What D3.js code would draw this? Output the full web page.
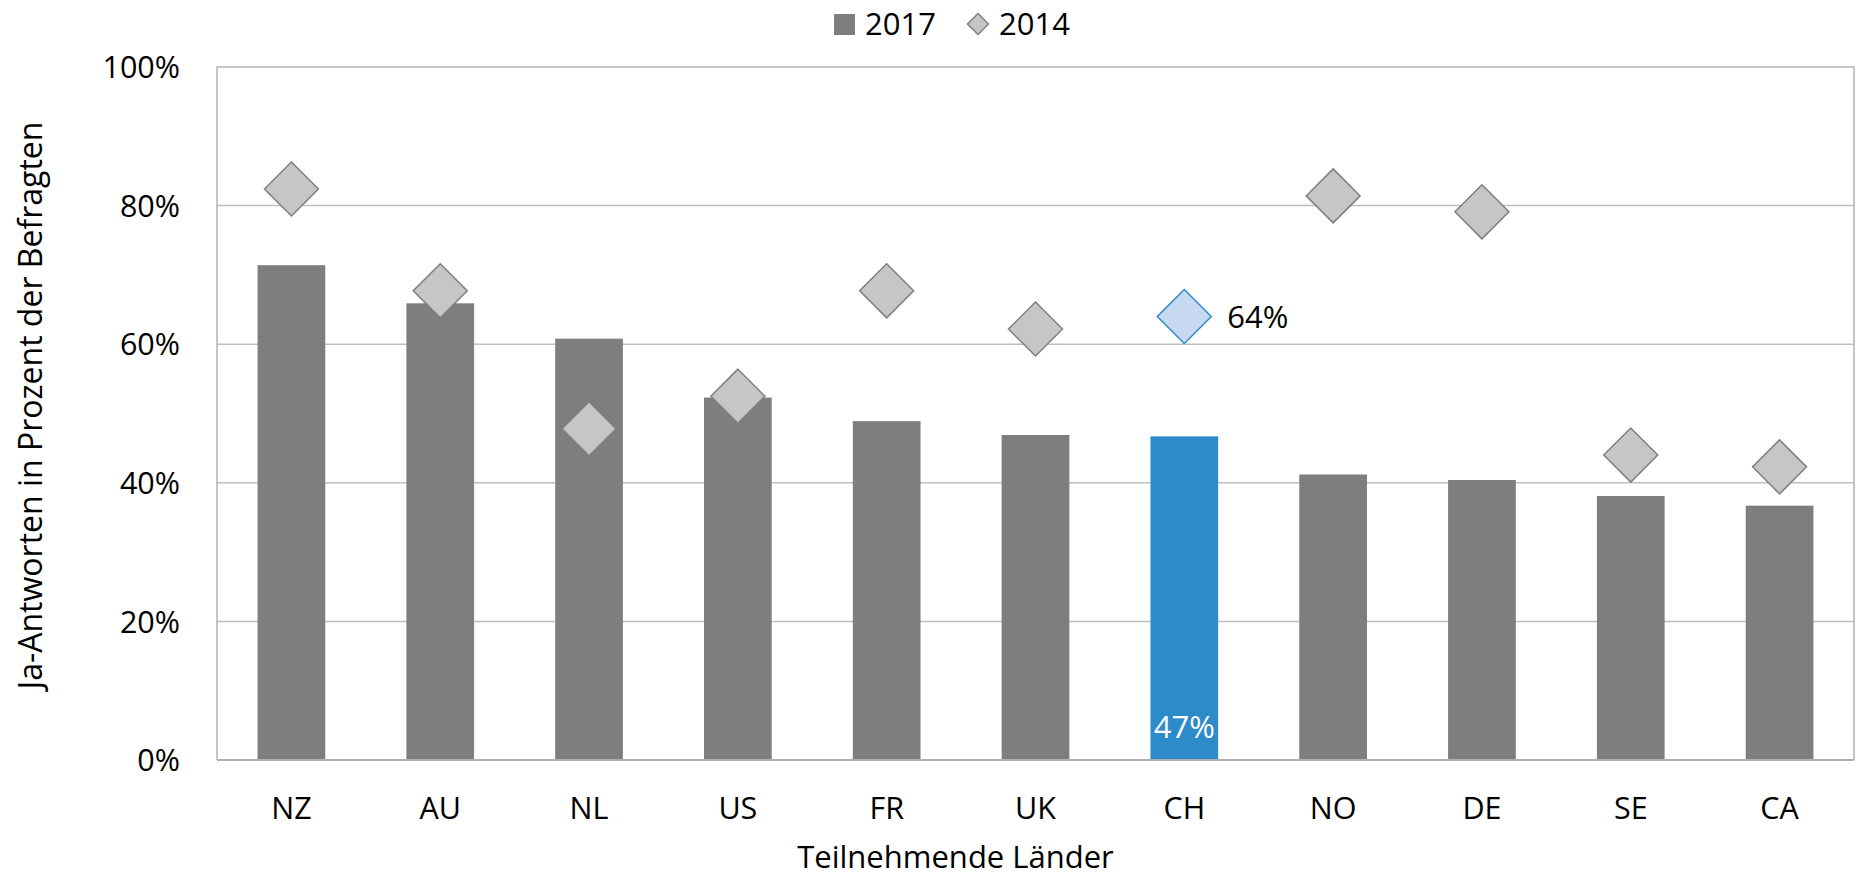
<!DOCTYPE html>
<html>
<head>
<meta charset="utf-8">
<script src="https://cdn.jsdelivr.net/npm/d3@7"></script>
<style>
  html, body { margin: 0; padding: 0; background: #fff; }
  svg { display: block; }
  text { font-family: "Open Sans", sans-serif; }
</style>
</head>
<body>
<svg id="chart" width="1856" height="878"></svg>
<script>
const categories = ["NZ", "AU", "NL", "US", "FR", "UK", "CH", "NO", "DE", "SE", "CA"];
const values2017 = [71.4, 65.9, 60.8, 52.3, 48.9, 46.9, 46.7, 41.2, 40.4, 38.1, 36.7];
const values2014 = [82.4, 67.7, 47.8, 52.5, 67.7, 62.2, 64.0, 81.4, 79.1, 44.0, 42.3];
const yTicks = [0, 20, 40, 60, 80, 100];
const seriesNames = ["2017", "2014"];
const highlight = "CH";
const yTitle = "Ja-Antworten in Prozent der Befragten";
const xTitle = "Teilnehmende Länder";

const svg = d3.select("#chart");
const m = { left: 217, right: 1854, top: 67, bottom: 760 };

const x = d3.scaleBand().domain(categories).range([m.left, m.right]).paddingInner(0.545).paddingOuter(0.2725);
const y = d3.scaleLinear().domain([0, 100]).range([m.bottom, m.top]);

// gridlines
svg.append("g").selectAll("line").data(yTicks.filter(d => d > 0 && d < 100)).join("line")
  .attr("x1", m.left).attr("x2", m.right)
  .attr("y1", d => y(d)).attr("y2", d => y(d))
  .attr("stroke", "#bfbfbf").attr("stroke-width", 1.5);

// plot border (top, left, right)
svg.append("path")
  .attr("d", `M${m.left},${m.bottom}V${m.top}H${m.right}V${m.bottom}`)
  .attr("fill", "none").attr("stroke", "#b3b3b3").attr("stroke-width", 1.5);

// bars
svg.append("g").selectAll("rect").data(categories).join("rect")
  .attr("x", d => x(d))
  .attr("width", x.bandwidth())
  .attr("y", (d, i) => y(values2017[i]))
  .attr("height", (d, i) => y(0) - y(values2017[i]))
  .attr("fill", d => d === highlight ? "#2e8bc9" : "#7e7e80");

// x axis line
svg.append("line").attr("x1", m.left).attr("x2", m.right)
  .attr("y1", y(0)).attr("y2", y(0))
  .attr("stroke", "#b0b0b0").attr("stroke-width", 2);

// diamonds
const dSize = 27;
const diamond = `M0,${-dSize}L${dSize},0L0,${dSize}L${-dSize},0Z`;
svg.append("g").selectAll("path").data(categories).join("path")
  .attr("d", diamond)
  .attr("transform", (d, i) => `translate(${x(d) + x.bandwidth() / 2},${y(values2014[i])})`)
  .attr("fill", d => d === highlight ? "#c6d9f0" : "#c6c6c7")
  .attr("stroke", d => d === highlight ? "#2e8bc9" : "#7f7f7f")
  .attr("stroke-width", 1.5);

// data labels for highlight
const hi = categories.indexOf(highlight);
svg.append("text")
  .attr("x", x(highlight) + x.bandwidth() / 2 + dSize + 16)
  .attr("y", y(values2014[hi]) + 12)
  .attr("font-size", 31).attr("fill", "#000")
  .text(Math.round(values2014[hi]) + "%");
svg.append("text")
  .attr("x", x(highlight) + x.bandwidth() / 2)
  .attr("y", y(0) - 22)
  .attr("text-anchor", "middle")
  .attr("font-size", 31).attr("fill", "#fff")
  .text(Math.round(values2017[hi]) + "%");

// y axis
const yAxis = d3.axisLeft(y).tickValues(yTicks).tickFormat(d => d + "%").tickSize(0).tickPadding(37);
const gy = svg.append("g").attr("transform", `translate(${m.left},0)`).call(yAxis);
gy.select(".domain").remove();
gy.selectAll("text").attr("font-size", 30.5).attr("font-family", "Open Sans, sans-serif").attr("fill", "#000").attr("dy", "0.35em");

// x axis labels
const xAxis = d3.axisBottom(x).tickSize(0).tickPadding(38);
const gx = svg.append("g").attr("transform", `translate(0,${y(0)})`).call(xAxis);
gx.select(".domain").remove();
gx.selectAll("text").attr("font-size", 30.5).attr("font-family", "Open Sans, sans-serif").attr("fill", "#000").attr("dy", "0.68em");

// axis titles
svg.append("text")
  .attr("x", (m.left + m.right) / 2 - 80).attr("y", 868)
  .attr("text-anchor", "middle").attr("font-size", 31).attr("fill", "#000")
  .text(xTitle);
svg.append("text")
  .attr("transform", `translate(42,${(m.top + m.bottom) / 2 - 8}) rotate(-90)`)
  .attr("text-anchor", "middle").attr("font-size", 32).attr("fill", "#000")
  .text(yTitle);

// legend
const lg = svg.append("g");
lg.append("rect").attr("x", 834).attr("y", 14).attr("width", 21).attr("height", 21).attr("fill", "#7e7e80");
lg.append("text").attr("x", 865).attr("y", 35).attr("font-size", 31).attr("fill", "#000").text(seriesNames[0]);
lg.append("path").attr("d", "M0,-10.5L10.5,0L0,10.5L-10.5,0Z")
  .attr("transform", "translate(978,24)")
  .attr("fill", "#c6c6c7").attr("stroke", "#7f7f7f").attr("stroke-width", 1.5);
lg.append("text").attr("x", 999).attr("y", 35).attr("font-size", 31).attr("fill", "#000").text(seriesNames[1]);
</script>
</body>
</html>
